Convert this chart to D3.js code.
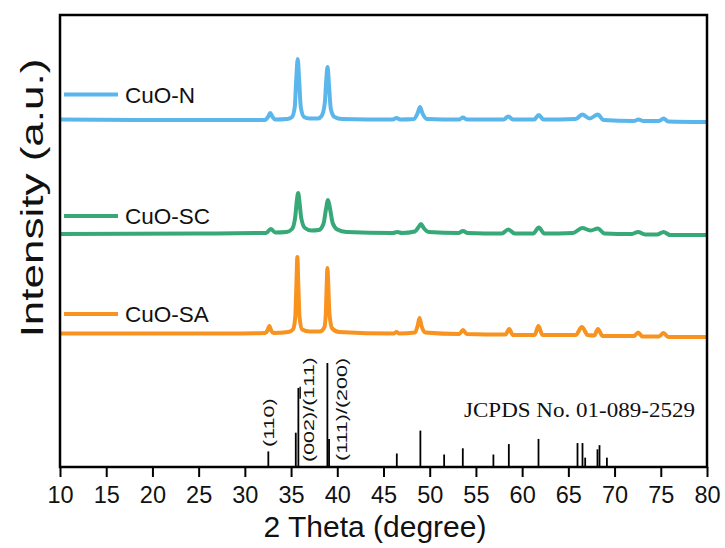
<!DOCTYPE html>
<html>
<head>
<meta charset="utf-8">
<script src="https://cdn.jsdelivr.net/npm/d3@7"></script>
<style>
    body { margin: 0; background: #fff; }
    svg { display: block; font-family: "Liberation Sans", Arial, sans-serif; }
</style>
</head>
<body>
<div id="chart"></div>
<script>
// XRD patterns, [2theta (deg), intensity (a.u.) above the pattern's own baseline]
const seriesNames = ["CuO-N", "CuO-SC", "CuO-SA"];
const seriesColors = ["#5bb6ec", "#37a878", "#f7931e"];
const offsets = [346, 234, 133.5];

const cuoN = [
    [10, 1.5], [20, 1], [29.5, 1], [32.2, 1], [32.5, 4], [32.75, 8], [33.0, 4], [33.3, 1.5],
    [34.6, 2], [35.1, 4], [35.4, 14], [35.55, 40], [35.72, 62], [35.88, 40], [36.05, 14], [36.4, 4],
    [37.0, 2.5], [37.9, 2.5], [38.3, 5], [38.65, 18], [38.8, 40], [38.95, 54], [39.1, 36], [39.3, 12],
    [39.7, 4], [40.5, 2], [46.0, 1.5], [46.4, 3], [46.8, 1.5], [48.3, 2], [48.7, 8], [48.95, 14],
    [49.2, 8], [49.7, 2], [53.2, 1.5], [53.6, 3.5], [54.0, 1.5], [58.0, 1.5], [58.5, 4.5], [59.0, 1.5],
    [61.3, 1.5], [61.8, 6], [62.3, 1.5], [65.8, 2], [66.5, 6.5], [67.3, 2.5], [68.2, 6.5], [68.8, 1],
    [72.1, 0], [72.6, 1.5], [73.1, 0], [74.8, 0], [75.3, 2.5], [75.8, -0.5], [80, -1]
];

const cuoSC = [
    [10, -1], [25, -0.5], [32.3, 0], [32.8, 4], [33.3, 0.5], [34.5, 1], [35.1, 4], [35.45, 16],
    [35.62, 32], [35.77, 40], [35.92, 30], [36.1, 15], [36.5, 5], [37.2, 2.5], [38.0, 3], [38.5, 9],
    [38.78, 24], [39.0, 33], [39.22, 24], [39.5, 10], [40.0, 3.5], [41.0, 1], [46.0, 0], [46.5, 1],
    [47.0, 0], [48.4, 1.5], [48.8, 6], [49.05, 9], [49.35, 5], [49.9, 1], [53.1, 0], [53.6, 2],
    [54.1, 0], [57.8, -0.5], [58.5, 3.5], [59.2, -0.5], [61.2, -0.5], [61.8, 5.5], [62.4, -0.5],
    [65.5, 0], [66.5, 5], [67.4, 2.5], [68.2, 4.5], [68.9, -0.5], [71.8, -1], [72.55, 1], [73.3, -1.5],
    [74.6, -1.5], [75.3, 1], [76.0, -2], [80, -2]
];

const cuoSA = [
    [10, 0], [28, 0], [32.2, 0.5], [32.45, 3], [32.65, 7.5], [32.85, 3], [33.1, 0.5], [34.7, 1.5],
    [35.2, 4], [35.45, 16], [35.58, 50], [35.68, 76.5], [35.78, 50], [35.92, 16], [36.2, 4], [37.0, 2],
    [38.1, 2], [38.6, 6], [38.76, 20], [38.86, 50], [38.93, 65.5], [39.02, 50], [39.15, 20], [39.45, 5],
    [40.2, 1.5], [46.1, 0], [46.4, 1.5], [46.7, 0], [48.4, 1], [48.7, 8], [48.9, 15.5], [49.1, 8],
    [49.5, 1], [53.2, -0.5], [53.6, 3.5], [54.0, -0.5], [58.2, -1], [58.6, 4.5], [59.0, -1.5],
    [61.35, -1.5], [61.76, 7.5], [62.2, -1.5], [65.8, -1.5], [66.46, 6.5], [67.1, -1.5], [67.8, -2],
    [68.2, 4.5], [68.7, -2.5], [72.1, -2.5], [72.55, 1], [73.0, -3], [74.8, -3], [75.3, 0.5],
    [75.8, -3.5], [80, -3.5]
];

const seriesData = [cuoN, cuoSC, cuoSA];

// reference card JCPDS 01-089-2529
const refTheta = [32.54, 35.51, 35.79, 38.93, 39.11, 46.44, 48.99, 51.56, 53.58, 56.89,
    58.56, 61.77, 65.99, 66.53, 66.82, 68.15, 68.37, 69.17];
const refIntensity = [15, 33, 76, 100, 27, 13, 35, 12, 18, 12,
    22, 27, 23, 23, 9, 17, 21, 9];
// "|" marks the index that carries a bar (1-bar)
const hklLabels = ["(110)", "(002)/(|11)", "(111)/(200)"];
const refCard = "JCPDS No. 01-089-2529";

const xTickValues = [10, 15, 20, 25, 30, 35, 40, 45, 50, 55, 60, 65, 70, 75, 80];
const xMinorValues = [12.5, 17.5, 22.5, 27.5, 32.5, 37.5, 42.5, 47.5, 52.5, 57.5, 62.5, 67.5, 72.5, 77.5];
const xTitle = "2 Theta (degree)";
const yTitle = "Intensity (a.u.)";

const ctx = {
    W: 725,
    H: 548,
    left: 60,
    right: 707,
    top: 15,
    bottom: 467,
};

function draw() {
    const svg = d3.select("#chart")
        .append("svg")
        .attr("width", ctx.W)
        .attr("height", ctx.H);

    const x = d3.scaleLinear().domain([10, 80]).range([ctx.left, ctx.right]);
    const y = d3.scaleLinear().domain([0, 452]).range([ctx.bottom, ctx.top]);
    const yRef = d3.scaleLinear().domain([0, 100]).range([ctx.bottom, ctx.bottom - 104]);

    // patterns
    seriesData.forEach(function (data, i) {
        const line = d3.line()
            .x(d => x(d[0]))
            .y(d => y(d[1] + offsets[i]))
            .curve(d3.curveMonotoneX);
        svg.append("path")
            .datum(data)
            .attr("d", line)
            .attr("fill", "none")
            .attr("stroke", seriesColors[i])
            .attr("stroke-width", 4)
            .attr("stroke-linejoin", "round");
    });

    // legend
    const legendY = [94.5, 216, 314];
    seriesNames.forEach(function (name, i) {
        svg.append("line")
            .attr("x1", 64).attr("x2", 118)
            .attr("y1", legendY[i]).attr("y2", legendY[i])
            .attr("stroke", seriesColors[i])
            .attr("stroke-width", 4);
        svg.append("text")
            .attr("x", 125)
            .attr("y", legendY[i] + 8)
            .attr("font-size", 22.5)
            .attr("fill", "#111")
            .text(name);
    });

    // reference sticks
    svg.append("g").selectAll("line")
        .data(refTheta)
        .enter()
        .append("line")
        .attr("x1", d => x(d)).attr("x2", d => x(d))
        .attr("y1", ctx.bottom)
        .attr("y2", (d, i) => yRef(refIntensity[i]))
        .attr("stroke", "#000")
        .attr("stroke-width", 1.8);

    // hkl labels (rotated, squeezed across their height like the source)
    const hklPos = [[274, 447], [314, 462], [347, 461]];
    hklLabels.forEach(function (lab, i) {
        const t = svg.append("text")
            .attr("transform", `translate(${hklPos[i][0]},${hklPos[i][1]}) rotate(-90) scale(1,0.7)`)
            .attr("font-family", "'Liberation Sans', Arial, sans-serif")
            .attr("font-size", 21.5)
            .attr("fill", "#111");
        const parts = lab.split("|");
        if (parts.length > 1) {
            t.append("tspan").text(parts[0]);
            t.append("tspan").style("text-decoration", "overline").text("1");
            t.append("tspan").text(parts[1]);
        } else {
            t.text(lab);
        }
    });

    svg.append("text")
        .attr("x", 464)
        .attr("y", 417)
        .attr("font-family", "'Liberation Serif', 'Times New Roman', serif")
        .attr("font-size", 21)
        .attr("textLength", 231)
        .attr("lengthAdjust", "spacingAndGlyphs")
        .attr("fill", "#111")
        .text(refCard);

    // bottom axis
    const axisG = svg.append("g")
        .attr("transform", `translate(0,${ctx.bottom})`);
    axisG.call(d3.axisBottom(x).tickValues(xMinorValues).tickSize(5).tickFormat(""));
    axisG.call(d3.axisBottom(x).tickValues(xTickValues).tickSize(10).tickPadding(9).tickFormat(d3.format("d")));
    axisG.selectAll(".domain").remove();
    axisG.selectAll(".tick line").attr("stroke", "#000").attr("stroke-width", 2);
    axisG.selectAll(".tick text")
        .attr("font-family", "'Liberation Sans', Arial, sans-serif")
        .attr("font-size", 23.5)
        .attr("fill", "#111");

    // frame
    svg.append("rect")
        .attr("x", ctx.left)
        .attr("y", ctx.top)
        .attr("width", ctx.right - ctx.left)
        .attr("height", ctx.bottom - ctx.top)
        .attr("fill", "none")
        .attr("stroke", "#000")
        .attr("stroke-width", 2.5);

    // titles
    svg.append("text")
        .attr("x", 375)
        .attr("y", 537)
        .attr("text-anchor", "middle")
        .attr("font-size", 30)
        .attr("fill", "#111")
        .text(xTitle);

    svg.append("text")
        .attr("transform", "translate(43,198) rotate(-90) scale(1,0.7)")
        .attr("text-anchor", "middle")
        .attr("font-size", 44)
        .attr("fill", "#111")
        .text(yTitle);
}

draw();
</script>
</body>
</html>
